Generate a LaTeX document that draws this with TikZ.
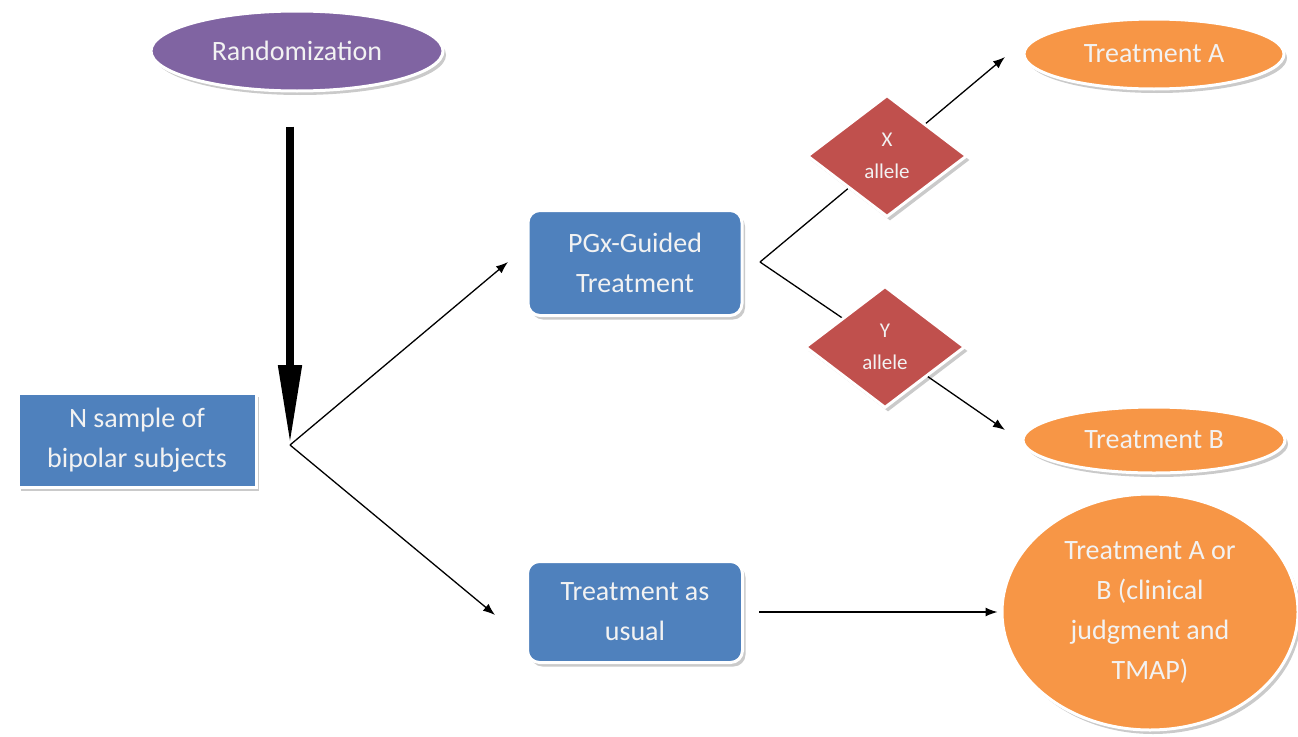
\documentclass[tikz,border=0pt]{standalone}
\usepackage{fontspec}
\setmainfont{Carlito}
\usetikzlibrary{shapes.geometric,arrows.meta,shadows}
\definecolor{cpurple}{HTML}{8064A2}
\definecolor{cblue}{HTML}{4F81BD}
\definecolor{cred}{HTML}{C0504D}
\definecolor{corange}{HTML}{F79646}
\definecolor{ctext}{HTML}{F2F2F2}
\tikzset{
  shape base/.style={draw=white, line width=3pt, text=ctext, inner sep=0pt, align=center,
    font=\fontsize{28}{40}\selectfont,
    drop shadow={shadow xshift=3pt, shadow yshift=-4pt, fill=black!35, opacity=0.6}},
  oval/.style={shape base, ellipse},
  boxnode/.style={shape base, rectangle, fill=cblue},
  roundbox/.style={boxnode, rounded corners=12pt},
  allele/.style={shape base, diamond, fill=cred, minimum width=160pt, minimum height=122pt,
    font=\fontsize{21}{32}\selectfont},
  conn/.style={line width=1.3pt, -{Latex[length=12pt,width=9pt]}},
  plain/.style={line width=1.3pt},
}
\begin{document}
\begin{tikzpicture}[x=1pt,y=-1pt]
\useasboundingbox (0,0) rectangle (1298,736);
% nodes
\node[oval, fill=cpurple, minimum width=292pt, minimum height=80pt] (rand) at (297,51) {Randomization};
\node[boxnode, minimum width=238pt, minimum height=94pt] (nsample) at (137,440) {N sample of\\bipolar subjects};
\node[roundbox, minimum width=214pt, minimum height=105pt] (pgx) at (635,263) {PGx-Guided\\Treatment};
\node[roundbox, minimum width=215pt, minimum height=101pt] (tau) at (635,612) {Treatment as\\usual};
\node[oval, fill=corange, minimum width=260pt, minimum height=70pt] (ta) at (1154,54) {Treatment A};
\node[oval, fill=corange, minimum width=262pt, minimum height=66pt] (tb) at (1154,440) {Treatment B};
\node[oval, fill=corange, minimum width=296pt, minimum height=236pt] (tab) at (1150,612) {Treatment A or\\B (clinical\\judgment and\\TMAP)};
% coordinates
\coordinate (branch) at (290,445);
\coordinate (pgxin) at (508,262);
\coordinate (tauin) at (495,615);
\coordinate (split) at (760,262);
\coordinate (tain) at (1005,57);
\coordinate (tbin) at (1005,430);
% connectors (drawn before diamonds so diamonds cover them)
\draw[plain] (split) -- (887,156);
\draw[plain] (split) -- (885,347);
\node[allele] (xal) at (887,156) {X\\allele};
\node[allele] (yal) at (885,347) {Y\\allele};
\draw[conn] (xal) -- (tain);
\draw[conn] (yal) -- (tbin);
\draw[line width=8pt, shorten <=34pt, -{Triangle[length=80pt,width=22pt]}] (rand.south -| branch) -- (branch);
\draw[conn] (branch) -- (pgxin);
\draw[conn] (branch) -- (tauin);
\draw[conn, shorten <=15pt, shorten >=3pt] (tau.east |- tab.west) -- (tab.west);
\end{tikzpicture}
\end{document}
